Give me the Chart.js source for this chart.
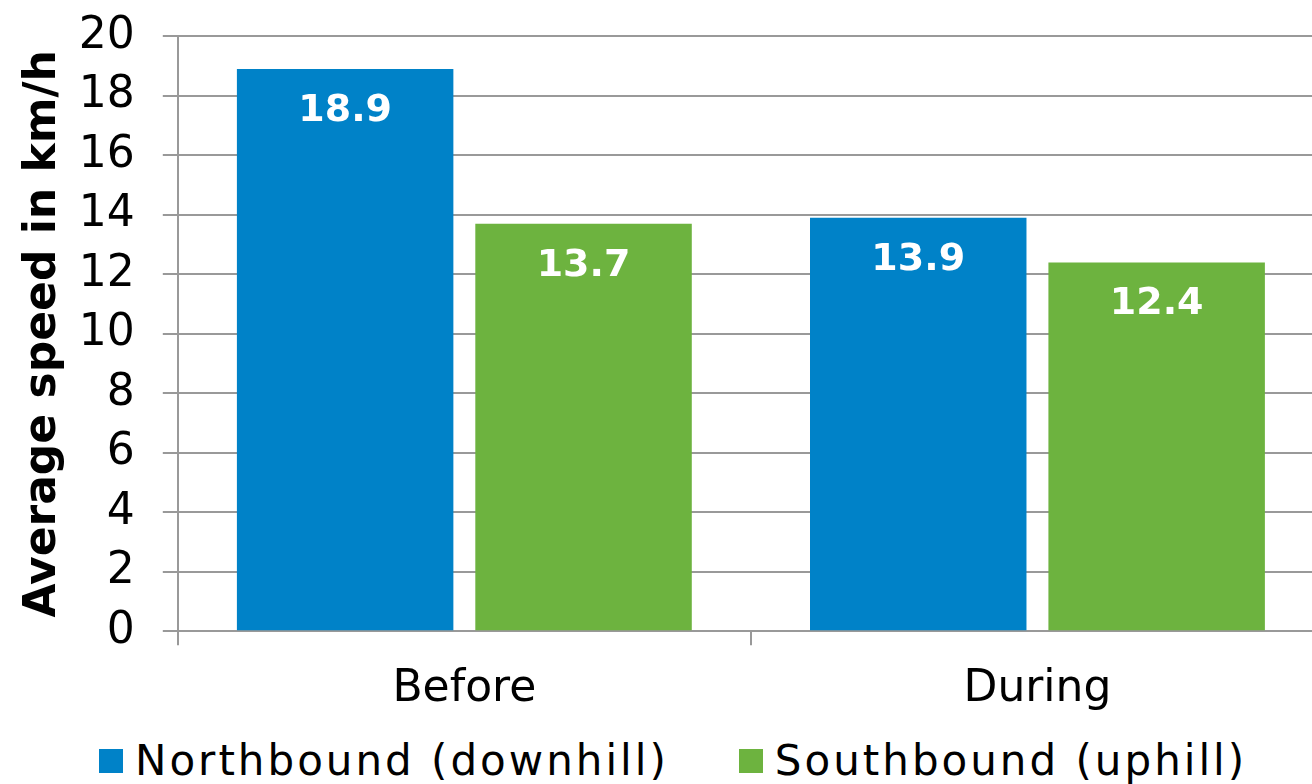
<!DOCTYPE html>
<html lang="en">
<head>
  <meta charset="UTF-8" />
  <script src="https://cdn.jsdelivr.net/npm/chart.js"></script>
  <title>Average speed</title>
  <style>
    html, body { margin: 0; padding: 0; background: #fff; overflow: hidden; }
    body { width: 1312px; height: 784px; position: relative; }
    .wrap { position: absolute; left: 0; top: -18px; width: 1336px; height: 752px; }
    .legend {
      position: absolute; left: 99px; top: 736px;
      display: flex; align-items: center; gap: 70px;
      font-family: 'DejaVu Sans', sans-serif; font-size: 42px; letter-spacing: 3px;
      color: #000; white-space: nowrap;
    }
    .legend-item { display: flex; align-items: center; }
    .legend-box { width: 24px; height: 24px; margin-right: 12px; }
  </style>
</head>
<body>
  <div class="wrap">
    <canvas id="speedChart" width="1336" height="752"></canvas>
  </div>
  <div class="legend" id="legend"></div>

<script>
  // periods and speeds (km/h)
  var periods = ['Before', 'During']
  var northbound = [18.9, 13.9]
  var southbound = [13.7, 12.4]
  var seriesNames = ['Northbound (downhill)', 'Southbound (uphill)']
  var seriesColors = ['#0082c8', '#6db33f']

  var fontFamily = "'DejaVu Sans', sans-serif"

  // white value labels inside the top of each bar
  var barValues = {
    id: 'barValues',
    afterDatasetsDraw(chart) {
      var ctx = chart.ctx
      ctx.save()
      ctx.fillStyle = '#fff'
      ctx.font = 'bold 38px ' + fontFamily
      ctx.textAlign = 'center'
      ctx.textBaseline = 'middle'
      chart.data.datasets.forEach(function (ds, i) {
        chart.getDatasetMeta(i).data.forEach(function (bar, j) {
          ctx.fillText(ds.data[j].toFixed(1), bar.x, bar.y + 42)
        })
      })
      ctx.restore()
    }
  }

  var chart = new Chart(document.getElementById('speedChart'), {
    type: 'bar',
    data: {
      labels: periods,
      datasets: [{
        label: seriesNames[0],
        data: northbound,
        backgroundColor: seriesColors[0]
      }, {
        label: seriesNames[1],
        data: southbound,
        backgroundColor: seriesColors[1]
      }]
    },
    plugins: [barValues],
    options: {
      responsive: false,
      animation: false,
      categoryPercentage: 0.832,
      barPercentage: 0.908,
      layout: { padding: { left: 17, right: 12, top: 0, bottom: 0 } },
      plugins: {
        tooltip: { enabled: false },
        legend: { display: false }
      },
      scales: {
        x: {
          grid: { drawOnChartArea: false, color: '#999', lineWidth: 2, tickLength: 14 },
          border: { display: false },
          ticks: { color: '#000', font: { family: fontFamily, size: 44 }, padding: 18 }
        },
        y: {
          min: 0,
          max: 20,
          ticks: { stepSize: 2, autoSkip: false, color: '#000', font: { family: fontFamily, size: 44 }, padding: 28 },
          grid: { color: '#999', lineWidth: 2, tickLength: 15 },
          border: { color: '#999', width: 2 },
          title: {
            display: true,
            text: 'Average speed in km/h',
            color: '#000',
            font: { family: fontFamily, size: 44, weight: 'bold' },
            padding: { top: 0, bottom: -19 }
          }
        }
      }
    }
  })

  // legend under the chart, built from the datasets
  var legend = document.getElementById('legend')
  chart.data.datasets.forEach(function (ds) {
    var item = document.createElement('div')
    item.className = 'legend-item'
    var box = document.createElement('span')
    box.className = 'legend-box'
    box.style.background = ds.backgroundColor
    var text = document.createElement('span')
    text.textContent = ds.label
    item.appendChild(box)
    item.appendChild(text)
    legend.appendChild(item)
  })
</script>
</body>
</html>
